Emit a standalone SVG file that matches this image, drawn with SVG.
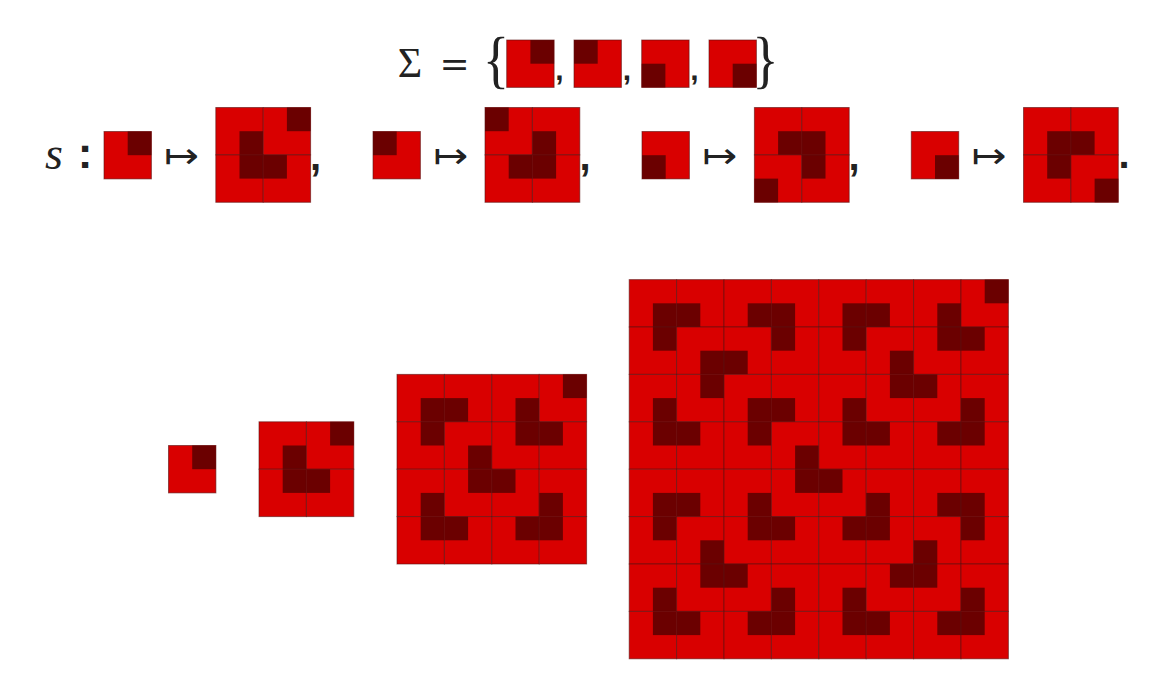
<svg xmlns="http://www.w3.org/2000/svg" xmlns:xlink="http://www.w3.org/1999/xlink" width="1170" height="695" viewBox="0 0 1170 695">
<style>
.r{fill:#d90000}
.d{fill:#6b0000}
.o{fill:none;stroke:#5a1010;stroke-opacity:0.6;stroke-width:1}
.m{font-family:"Liberation Serif","DejaVu Serif",serif;fill:#222}
.e{font-family:"DejaVu Serif","Liberation Serif",serif;fill:#222}
.p{font-family:"Liberation Sans","DejaVu Sans",sans-serif;font-weight:bold;fill:#222}
.a{font-family:"DejaVu Sans",sans-serif;fill:#222}
</style>
<defs>
<g id="tA"><rect class="r" width="47.4" height="47.4"/><rect class="d" x="23.7" y="0" width="23.7" height="23.7"/><rect class="o" width="47.4" height="47.4"/></g>
<g id="tB"><rect class="r" width="47.4" height="47.4"/><rect class="d" x="0" y="0" width="23.7" height="23.7"/><rect class="o" width="47.4" height="47.4"/></g>
<g id="tC"><rect class="r" width="47.4" height="47.4"/><rect class="d" x="0" y="23.7" width="23.7" height="23.7"/><rect class="o" width="47.4" height="47.4"/></g>
<g id="tD"><rect class="r" width="47.4" height="47.4"/><rect class="d" x="23.7" y="23.7" width="23.7" height="23.7"/><rect class="o" width="47.4" height="47.4"/></g>
</defs>
<rect width="1170" height="695" fill="#fff"/>

<g id="alphabet">
<text class="m" x="410" y="77" font-size="42" text-anchor="middle">Σ</text>
<text class="e" x="454.5" y="76" font-size="36" text-anchor="middle">=</text>
<text class="m" font-size="46" text-anchor="middle" transform="translate(496,80.5) scale(1.2,1.4)">{</text>
<use href="#tA" x="506.7" y="40"/>
<text class="p" x="559.5" y="80" font-size="30" text-anchor="middle">,</text>
<use href="#tB" x="574" y="40"/>
<text class="p" x="627" y="80" font-size="30" text-anchor="middle">,</text>
<use href="#tC" x="641.7" y="40"/>
<text class="p" x="694.5" y="80" font-size="30" text-anchor="middle">,</text>
<use href="#tD" x="709" y="40"/>
<text class="m" font-size="46" text-anchor="middle" transform="translate(765.5,80.5) scale(1.2,1.4)">}</text>
</g>

<g id="rules">
<text class="m" x="54" y="169" font-size="46" font-style="italic" text-anchor="middle">s</text>
<text class="p" x="85" y="168" font-size="44" text-anchor="middle">:</text>

<g id="rule-A">
<use href="#tA" x="104" y="131.5"/>
<text class="a" x="164" y="167.6" font-size="36" textLength="35" lengthAdjust="spacingAndGlyphs">↦</text>
<g transform="translate(215.8,107.5)">
<use href="#tD" x="0" y="0"/><use href="#tA" x="47.4" y="0"/>
<use href="#tA" x="0" y="47.4"/><use href="#tB" x="47.4" y="47.4"/>
</g>
<text class="p" x="315.5" y="170" font-size="40" text-anchor="middle">,</text>
</g>

<g id="rule-B">
<use href="#tB" x="373" y="131.5"/>
<text class="a" x="433.3" y="167.6" font-size="36" textLength="35" lengthAdjust="spacingAndGlyphs">↦</text>
<g transform="translate(485,107.5)">
<use href="#tB" x="0" y="0"/><use href="#tC" x="47.4" y="0"/>
<use href="#tA" x="0" y="47.4"/><use href="#tB" x="47.4" y="47.4"/>
</g>
<text class="p" x="585" y="170" font-size="40" text-anchor="middle">,</text>
</g>

<g id="rule-C">
<use href="#tC" x="642" y="131.5"/>
<text class="a" x="702.3" y="167.6" font-size="36" textLength="35" lengthAdjust="spacingAndGlyphs">↦</text>
<g transform="translate(754.4,107.5)">
<use href="#tD" x="0" y="0"/><use href="#tC" x="47.4" y="0"/>
<use href="#tC" x="0" y="47.4"/><use href="#tB" x="47.4" y="47.4"/>
</g>
<text class="p" x="854" y="170" font-size="40" text-anchor="middle">,</text>
</g>

<g id="rule-D">
<use href="#tD" x="911.3" y="131.5"/>
<text class="a" x="971.6" y="167.6" font-size="36" textLength="35" lengthAdjust="spacingAndGlyphs">↦</text>
<g transform="translate(1023.5,107.5)">
<use href="#tD" x="0" y="0"/><use href="#tC" x="47.4" y="0"/>
<use href="#tA" x="0" y="47.4"/><use href="#tD" x="47.4" y="47.4"/>
</g>
<text class="p" x="1124" y="168" font-size="40" text-anchor="middle">.</text>
</g>
</g>

<g id="iteration-1">
<use href="#tA" x="168.5" y="445.5"/>
</g>

<g id="iteration-2" transform="translate(259,421.8)">
<use href="#tD" x="0" y="0"/><use href="#tA" x="47.4" y="0"/>
<use href="#tA" x="0" y="47.4"/><use href="#tB" x="47.4" y="47.4"/>
</g>

<g id="iteration-3" transform="translate(397,374.4)">
<use href="#tD" x="0" y="0"/><use href="#tC" x="47.4" y="0"/><use href="#tD" x="94.8" y="0"/><use href="#tA" x="142.2" y="0"/>
<use href="#tA" x="0" y="47.4"/><use href="#tD" x="47.4" y="47.4"/><use href="#tA" x="94.8" y="47.4"/><use href="#tB" x="142.2" y="47.4"/>
<use href="#tD" x="0" y="94.8"/><use href="#tA" x="47.4" y="94.8"/><use href="#tB" x="94.8" y="94.8"/><use href="#tC" x="142.2" y="94.8"/>
<use href="#tA" x="0" y="142.2"/><use href="#tB" x="47.4" y="142.2"/><use href="#tA" x="94.8" y="142.2"/><use href="#tB" x="142.2" y="142.2"/>
</g>

<g id="iteration-4" transform="translate(629.2,279.6)">
<use href="#tD" x="0" y="0"/><use href="#tC" x="47.4" y="0"/><use href="#tD" x="94.8" y="0"/><use href="#tC" x="142.2" y="0"/><use href="#tD" x="189.6" y="0"/><use href="#tC" x="237" y="0"/><use href="#tD" x="284.4" y="0"/><use href="#tA" x="331.8" y="0"/>
<use href="#tA" x="0" y="47.4"/><use href="#tD" x="47.4" y="47.4"/><use href="#tC" x="94.8" y="47.4"/><use href="#tB" x="142.2" y="47.4"/><use href="#tA" x="189.6" y="47.4"/><use href="#tD" x="237" y="47.4"/><use href="#tA" x="284.4" y="47.4"/><use href="#tB" x="331.8" y="47.4"/>
<use href="#tD" x="0" y="94.8"/><use href="#tA" x="47.4" y="94.8"/><use href="#tD" x="94.8" y="94.8"/><use href="#tC" x="142.2" y="94.8"/><use href="#tD" x="189.6" y="94.8"/><use href="#tA" x="237" y="94.8"/><use href="#tB" x="284.4" y="94.8"/><use href="#tC" x="331.8" y="94.8"/>
<use href="#tA" x="0" y="142.2"/><use href="#tB" x="47.4" y="142.2"/><use href="#tA" x="94.8" y="142.2"/><use href="#tD" x="142.2" y="142.2"/><use href="#tA" x="189.6" y="142.2"/><use href="#tB" x="237" y="142.2"/><use href="#tA" x="284.4" y="142.2"/><use href="#tB" x="331.8" y="142.2"/>
<use href="#tD" x="0" y="189.6"/><use href="#tC" x="47.4" y="189.6"/><use href="#tD" x="94.8" y="189.6"/><use href="#tA" x="142.2" y="189.6"/><use href="#tB" x="189.6" y="189.6"/><use href="#tC" x="237" y="189.6"/><use href="#tD" x="284.4" y="189.6"/><use href="#tC" x="331.8" y="189.6"/>
<use href="#tA" x="0" y="237"/><use href="#tD" x="47.4" y="237"/><use href="#tA" x="94.8" y="237"/><use href="#tB" x="142.2" y="237"/><use href="#tA" x="189.6" y="237"/><use href="#tB" x="237" y="237"/><use href="#tC" x="284.4" y="237"/><use href="#tB" x="331.8" y="237"/>
<use href="#tD" x="0" y="284.4"/><use href="#tA" x="47.4" y="284.4"/><use href="#tB" x="94.8" y="284.4"/><use href="#tC" x="142.2" y="284.4"/><use href="#tD" x="189.6" y="284.4"/><use href="#tA" x="237" y="284.4"/><use href="#tB" x="284.4" y="284.4"/><use href="#tC" x="331.8" y="284.4"/>
<use href="#tA" x="0" y="331.8"/><use href="#tB" x="47.4" y="331.8"/><use href="#tA" x="94.8" y="331.8"/><use href="#tB" x="142.2" y="331.8"/><use href="#tA" x="189.6" y="331.8"/><use href="#tB" x="237" y="331.8"/><use href="#tA" x="284.4" y="331.8"/><use href="#tB" x="331.8" y="331.8"/>
</g>

<g id="connectors"/>
</svg>
